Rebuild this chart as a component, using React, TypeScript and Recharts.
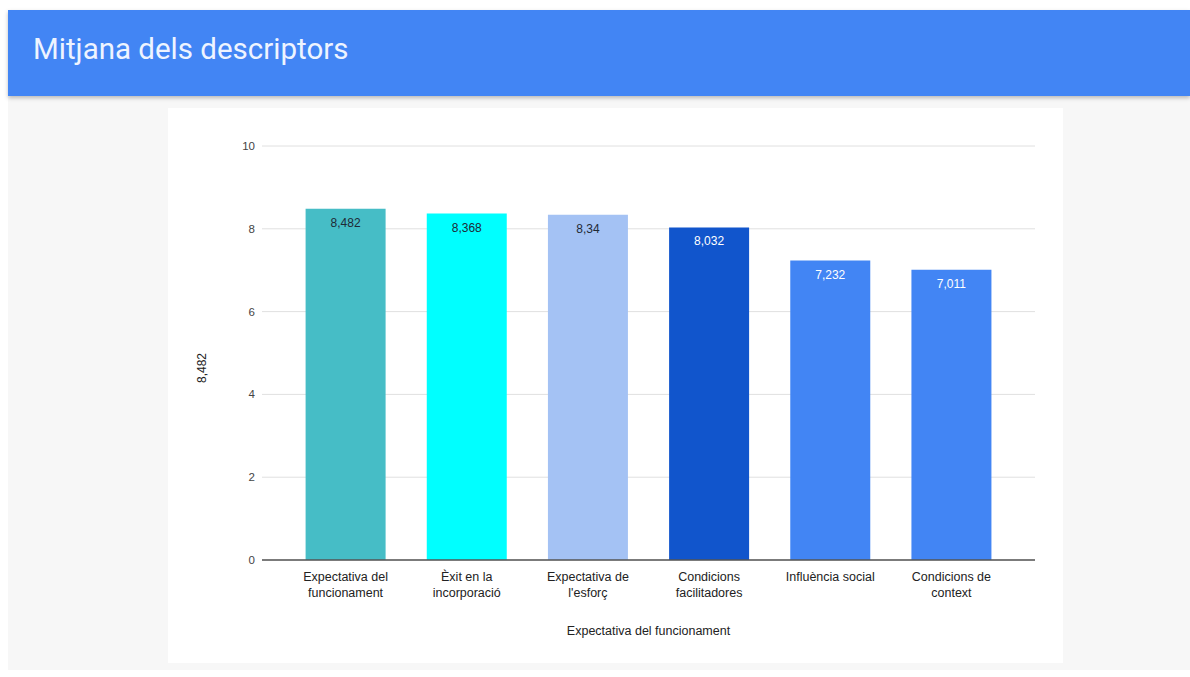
import React from 'react';
import { BarChart, Bar, XAxis, YAxis, CartesianGrid, Cell, LabelList, Text } from 'recharts';

const categories = [
  'Expectativa del funcionament',
  'Èxit en la incorporació',
  "Expectativa de l'esforç",
  'Condicions facilitadores',
  'Influència social',
  'Condicions de context',
];
const values = [8.482, 8.368, 8.34, 8.032, 7.232, 7.011];
const barColors = ['#46bdc6', '#00ffff', '#a4c2f4', '#1155cc', '#4285f4', '#4285f4'];
const labelColors = ['#1f2a36', '#1f2a36', '#1f2a36', '#ffffff', '#ffffff', '#ffffff'];
const yTicks = [0, 2, 4, 6, 8, 10];

const data = categories.map((name, i) => ({ name, value: values[i] }));

const fmt = (v: number) => String(v).replace('.', ',');

const FONT = 'Arial, "Liberation Sans", sans-serif';

// etiquetes de l'eix X en dues línies
const XTick = (props: any) => {
  const { x, y, payload } = props;
  return (
    <Text
      x={x}
      y={y + 4}
      width={112}
      textAnchor="middle"
      verticalAnchor="start"
      fontSize={12.5}
      fill="#222"
      fontFamily={FONT}
      lineHeight={16}
    >
      {payload.value}
    </Text>
  );
};

const BarValue = (props: any) => {
  const { x, y, width, value, index } = props;
  return (
    <text
      x={x + width / 2}
      y={y + 18}
      textAnchor="middle"
      fontSize={12}
      fontFamily={FONT}
      fill={labelColors[index]}
    >
      {fmt(value)}
    </text>
  );
};

export default function App() {
  return (
    <div style={{ position: 'absolute', left: 0, top: 0, width: 1190, height: 677, background: '#ffffff' }}>
      {/* capçalera */}
      <div
        style={{
          position: 'absolute',
          left: 8,
          top: 10,
          width: 1182,
          height: 86,
          background: '#4285f4',
          boxShadow: '0 2px 4px rgba(0,0,0,0.25)',
          zIndex: 2,
        }}
      >
        <div
          style={{
            position: 'absolute',
            left: 25,
            top: 22,
            fontFamily: 'Roboto, sans-serif',
            fontSize: 29.5,
            color: '#eef4ff',
          }}
        >
          Mitjana dels descriptors
        </div>
      </div>
      <div style={{ position: 'absolute', left: 8, top: 96, width: 1182, height: 574, background: '#f7f7f7' }} />
      <div style={{ position: 'absolute', left: 168, top: 108, width: 895, height: 555, background: '#ffffff' }}>
        <BarChart
          width={895}
          height={555}
          data={data}
          margin={{ top: 38, right: 28, left: 0, bottom: 0 }}
          barCategoryGap="17%"
        >
          <CartesianGrid vertical={false} stroke="#e0e0e0" />
          <XAxis
            dataKey="name"
            height={103}
            padding={{ left: 23, right: 23 }}
            axisLine={{ stroke: '#555', strokeWidth: 1.5 }}
            tickLine={false}
            interval={0}
            tick={<XTick />}
            label={{
              value: 'Expectativa del funcionament',
              position: 'insideBottom',
              offset: 28,
              fontSize: 12.5,
              fill: '#222',
              fontFamily: FONT,
            }}
          />
          <YAxis
            width={94}
            domain={[0, 10]}
            ticks={yTicks}
            axisLine={false}
            tickLine={false}
            tickMargin={1}
            tick={{ fontSize: 11.5, fill: '#444', fontFamily: FONT }}
            label={{
              value: '8,482',
              angle: -90,
              position: 'insideLeft',
              offset: 34,
              dy: 30,
              fontSize: 12,
              fill: '#222',
              fontFamily: FONT,
            }}
          />
          <Bar dataKey="value" isAnimationActive={false}>
            {data.map((d, i) => (
              <Cell key={d.name} fill={barColors[i]} />
            ))}
            <LabelList dataKey="value" content={<BarValue />} />
          </Bar>
        </BarChart>
      </div>
    </div>
  );
}
